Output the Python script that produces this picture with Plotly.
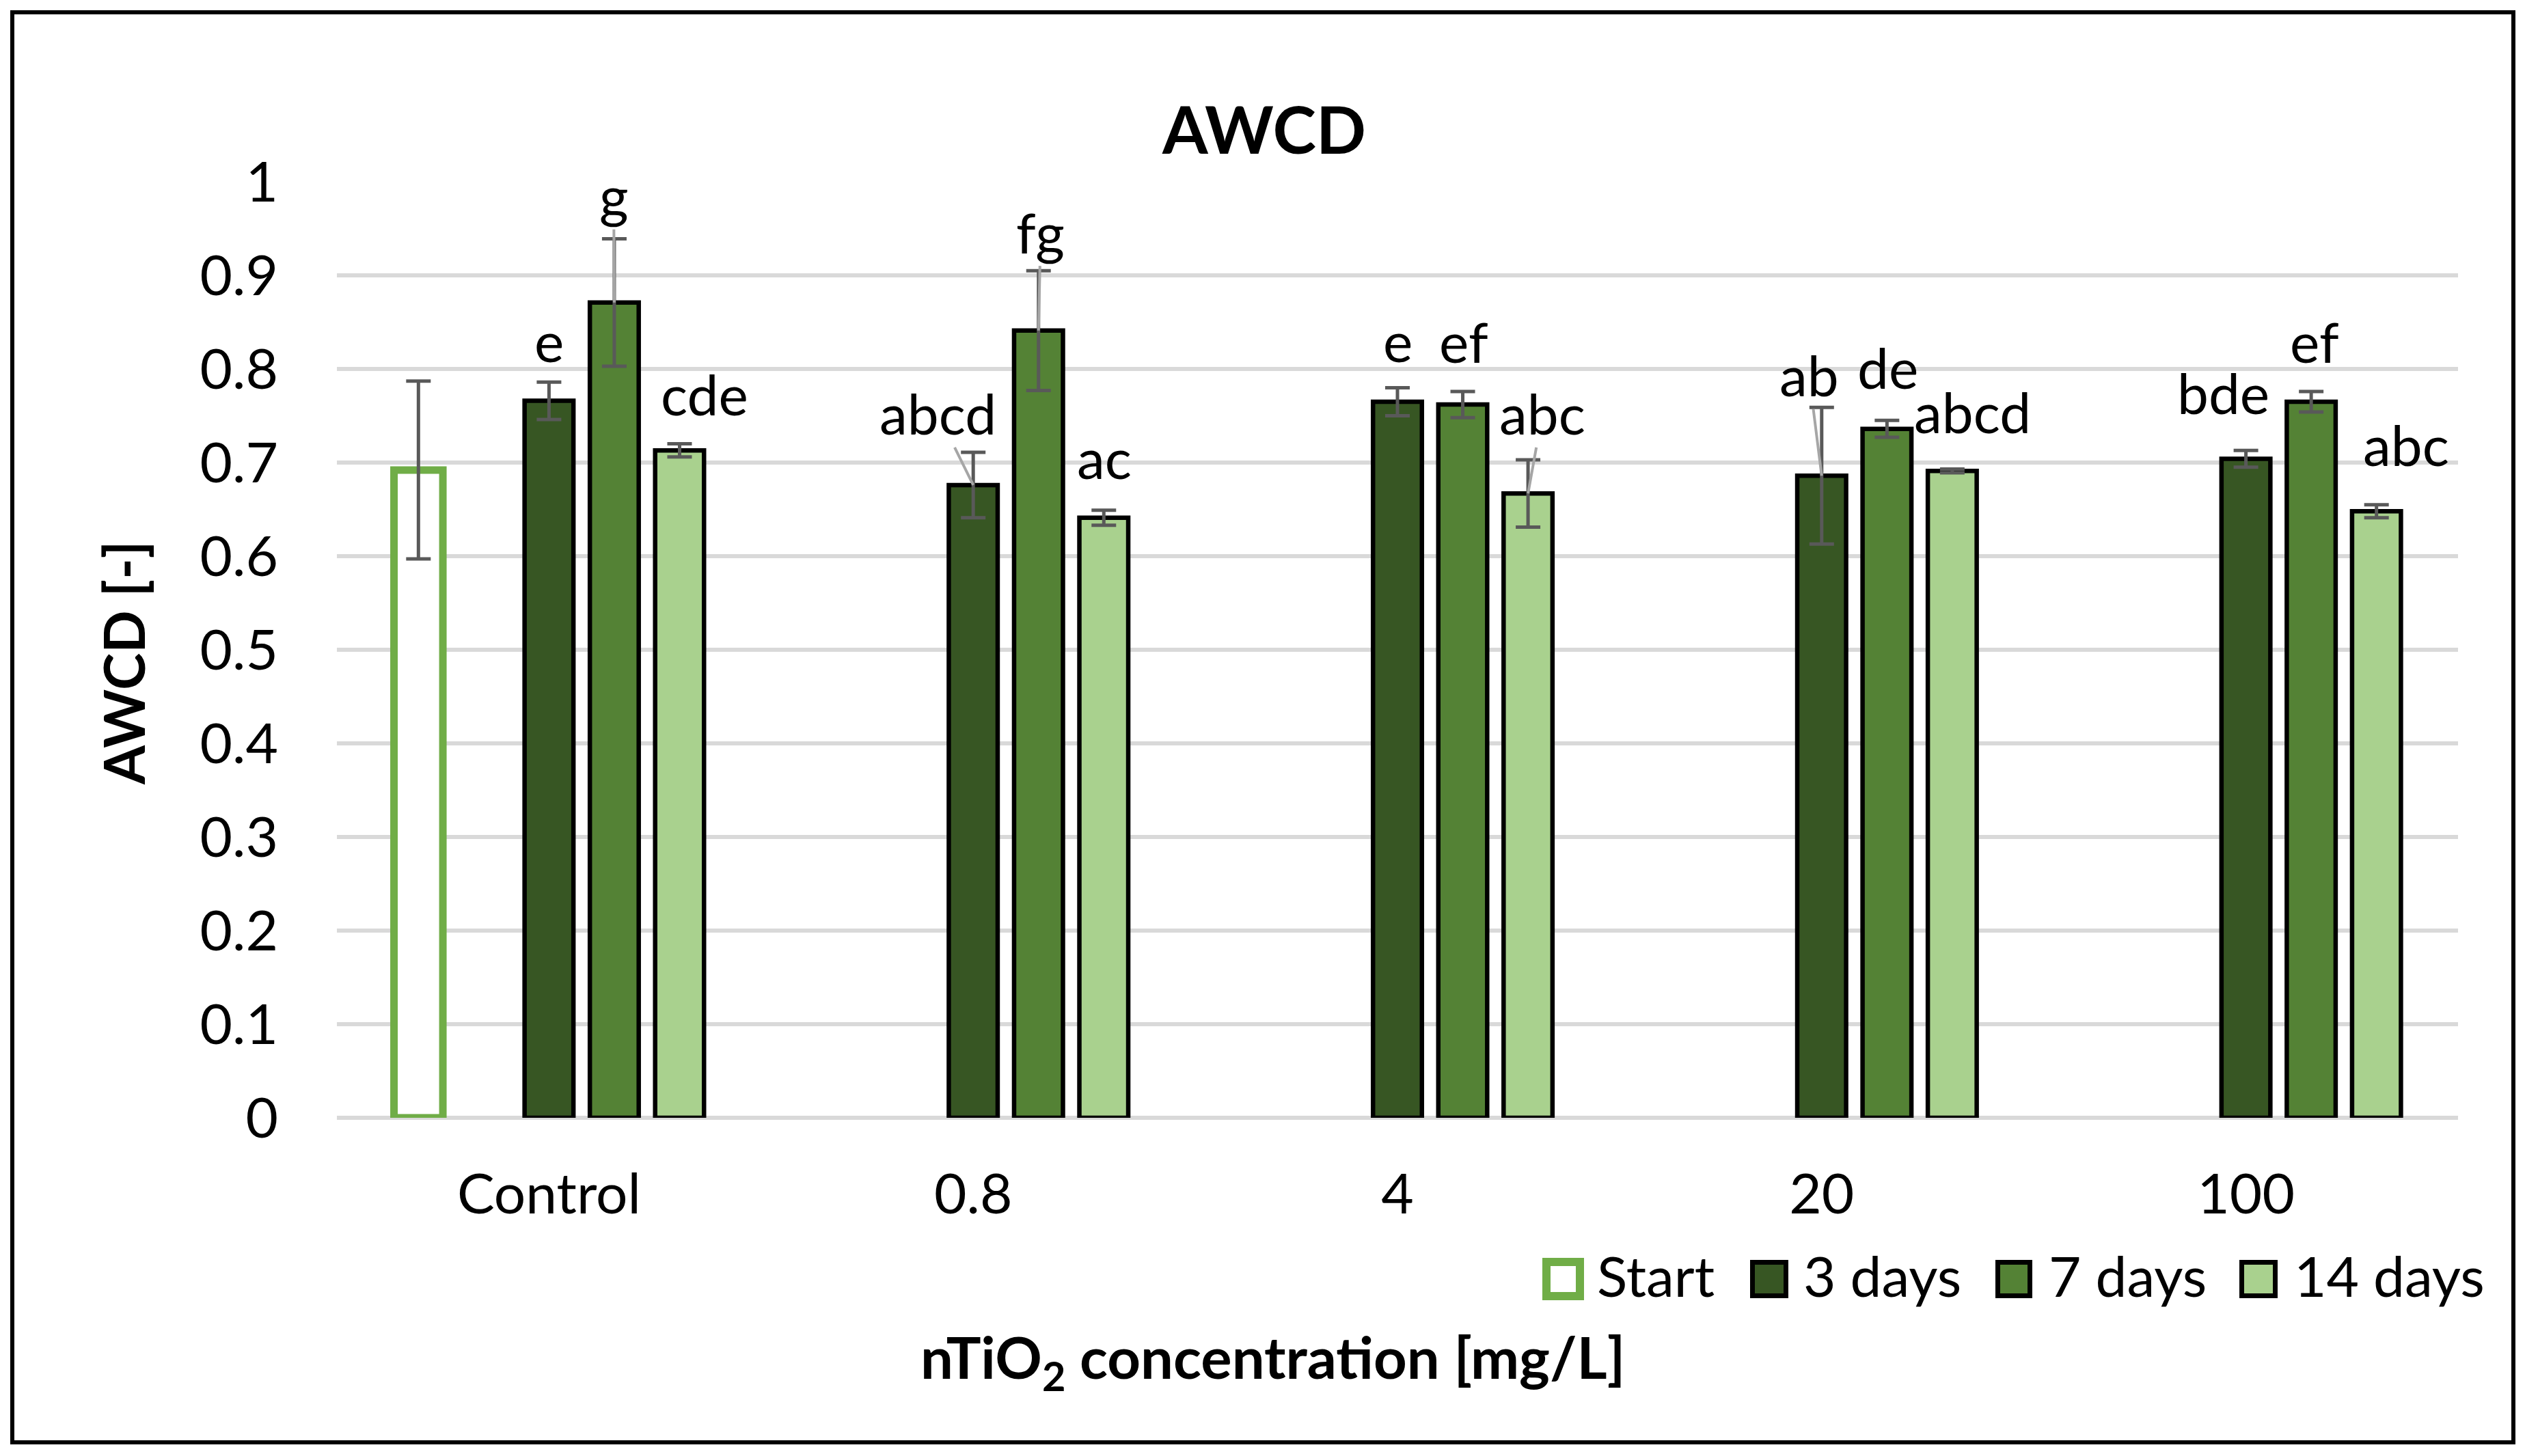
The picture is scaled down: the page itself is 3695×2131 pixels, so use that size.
import plotly.graph_objects as go

# ---------------- data ----------------
categories = ["Control", "0.8", "4", "20", "100"]
series_names = ["Start", "3 days", "7 days", "14 days"]

start_categories = ["Control"]
start_values = [0.692]
start_errors = [0.095]

days3_values = [0.766, 0.676, 0.765, 0.686, 0.704]
days3_errors = [0.020, 0.035, 0.015, 0.073, 0.009]

days7_values = [0.871, 0.841, 0.762, 0.736, 0.765]
days7_errors = [0.068, 0.064, 0.014, 0.009, 0.011]

days14_values = [0.713, 0.641, 0.667, 0.691, 0.648]
days14_errors = [0.007, 0.008, 0.036, 0.002, 0.007]

days3_letters = ["e", "abcd", "e", "ab", "bde"]
days7_letters = ["g", "fg", "ef", "de", "ef"]
days14_letters = ["cde", "ac", "abc", "abcd", "abc"]

y_ticks = [0, 0.1, 0.2, 0.3, 0.4, 0.5, 0.6, 0.7, 0.8, 0.9, 1]

# ---------------- layout / style ----------------
OFF = 8                      # page body margin
W, H = 3695 - 2 * OFF, 2131 - 2 * OFF
PLOT_L, PLOT_R, PLOT_T, PLOT_B = 493, 3597, 266, 1636   # target window pixels
L, T = PLOT_L - OFF, PLOT_T - OFF
R = W - (PLOT_R - OFF)
B = H - (PLOT_B - OFF)
PW, PH = PLOT_R - PLOT_L, PLOT_B - PLOT_T

def px(x):  # window pixel -> paper x
    return (x - PLOT_L) / PW

def py(y):  # window pixel -> paper y
    return (PLOT_B - y) / PH

FONT = "Lato"
FS = 82
col_start = "#70AD47"
col_3 = "#375623"
col_7 = "#548235"
col_14 = "#A9D18E"
err_col = "#595959"

slot = 0.1539
bw = 0.1152

# label placement (offset from category centre in category units, y in data units)
lab3_pos = [(0.0, 0.831), (-0.084, 0.753), (0.0, 0.831), (-0.030, 0.794), (-0.053, 0.775)]
lab7_pos = [(0.1525, 0.986), (0.159, 0.947), (0.157, 0.830), (0.156, 0.802), (0.162, 0.830)]
lab14_pos = [(0.367, 0.774), (0.309, 0.706), (0.342, 0.753), (0.355, 0.755), (0.377, 0.720)]
# which labels have leader lines
lead3 = [False, True, False, True, False]
lead7 = [True, True, False, False, False]
lead14 = [False, False, True, False, False]

fig = go.Figure()

def bar_trace(name, x, y, err, fill, line_col, line_w, centre):
    return go.Bar(
        name=name, x=x, y=y,
        width=bw, offset=centre - bw / 2,
        marker=dict(color=fill, line=dict(color=line_col, width=line_w)),
        error_y=dict(type="data", array=err, visible=True, color=err_col,
                     thickness=5, width=18),
        showlegend=False,
    )

fig.add_trace(bar_trace("Start", start_categories, start_values, start_errors,
                        "white", col_start, 11, -2 * slot))
fig.add_trace(bar_trace("3 days", categories, days3_values, days3_errors,
                        col_3, "black", 6.5, 0))
fig.add_trace(bar_trace("7 days", categories, days7_values, days7_errors,
                        col_7, "black", 6.5, slot))
fig.add_trace(bar_trace("14 days", categories, days14_values, days14_errors,
                        col_14, "black", 6.5, 2 * slot))

annotations = []

def add_labels(letters, pos, lead, vals, centre):
    for i, (txt, (dx, yy), ld, v) in enumerate(zip(letters, pos, lead, vals)):
        if ld:
            annotations.append(dict(
                x=i + centre, y=v, xref="x", yref="y",
                ax=i + dx, ay=yy, axref="x", ayref="y",
                text=txt, showarrow=True, arrowhead=0, arrowwidth=4,
                arrowcolor="#A6A6A6", standoff=0, startstandoff=0,
                font=dict(family=FONT, size=FS, color="black"),
            ))
        else:
            annotations.append(dict(
                x=i + dx, y=yy, xref="x", yref="y", text=txt, showarrow=False,
                xanchor="center", yanchor="middle",
                font=dict(family=FONT, size=FS, color="black"),
            ))

add_labels(days3_letters, lab3_pos, lead3, days3_values, 0)
add_labels(days7_letters, lab7_pos, lead7, days7_values, slot)
add_labels(days14_letters, lab14_pos, lead14, days14_values, 2 * slot)

# axis titles
annotations.append(dict(
    x=px(180), y=py(970), xref="paper", yref="paper", text="<b>AWCD [-]</b>",
    textangle=-90, showarrow=False, xanchor="center", yanchor="middle",
    font=dict(family=FONT, size=82, color="black"),
))
annotations.append(dict(
    x=px(1862), y=py(1991), xref="paper", yref="paper",
    text="<b>nTiO<sub>2</sub> concentration [mg/L]</b>",
    showarrow=False, xanchor="center", yanchor="middle",
    font=dict(family=FONT, size=85, color="black"),
))

# manual legend
shapes = []
legend_items = [
    ("Start", "white", col_start, 12, 2257, 2318, 1841, 1903, 2338),
    ("3 days", col_3, "black", 7, 2561, 2617, 1844, 1900, 2640),
    ("7 days", col_7, "black", 7, 2920, 2974, 1844, 1900, 2999),
    ("14 days", col_14, "black", 7, 3277, 3333, 1844, 1900, 3358),
]
for name, fill, lc, lw, x0, x1, y0, y1, tx in legend_items:
    h = lw / 2
    shapes.append(dict(type="rect", xref="paper", yref="paper",
                       x0=px(x0 + h), x1=px(x1 - h), y0=py(y1 - h), y1=py(y0 + h),
                       fillcolor=fill, line=dict(color=lc, width=lw), layer="above"))
    annotations.append(dict(x=px(tx - 3), y=py(1866), xref="paper", yref="paper",
                            text=name, showarrow=False, xanchor="left", yanchor="middle",
                            font=dict(family=FONT, size=FS, color="black")))

# chart border
shapes.append(dict(type="rect", xref="paper", yref="paper",
                   x0=px(18), x1=px(3678), y0=py(2111), y1=py(18),
                   line=dict(color="black", width=6), fillcolor="rgba(0,0,0,0)",
                   layer="above"))

fig.update_layout(
    width=W, height=H,
    margin=dict(l=L, r=R, t=T, b=B, autoexpand=False),
    paper_bgcolor="white", plot_bgcolor="white",
    barmode="overlay",
    title=dict(text="<b>AWCD</b>", x=(1850 - OFF) / W, xref="container", xanchor="center",
               y=1 - (191 - OFF) / H, yref="container", yanchor="middle",
               font=dict(family=FONT, size=96, color="black")),
    font=dict(family=FONT, size=FS, color="black"),
    annotations=annotations,
    shapes=shapes,
    showlegend=False,
)
fig.update_xaxes(type="category", categoryorder="array", categoryarray=categories,
                 range=[-0.5, len(categories) - 0.5], showgrid=False, zeroline=False,
                 showline=False, ticks="", ticklabelstandoff=57,
                 tickfont=dict(family=FONT, size=FS, color="black"))
fig.update_yaxes(range=[0, 1], tickvals=y_ticks, ticktext=[f"{v:g}" for v in y_ticks],
                 showgrid=True, gridcolor="#D9D9D9", gridwidth=6,
                 zeroline=True, zerolinecolor="#D9D9D9", zerolinewidth=6,
                 showline=False, ticks="", ticklabelstandoff=85,
                 tickfont=dict(family=FONT, size=FS, color="black"))

fig.write_html("out.html")
